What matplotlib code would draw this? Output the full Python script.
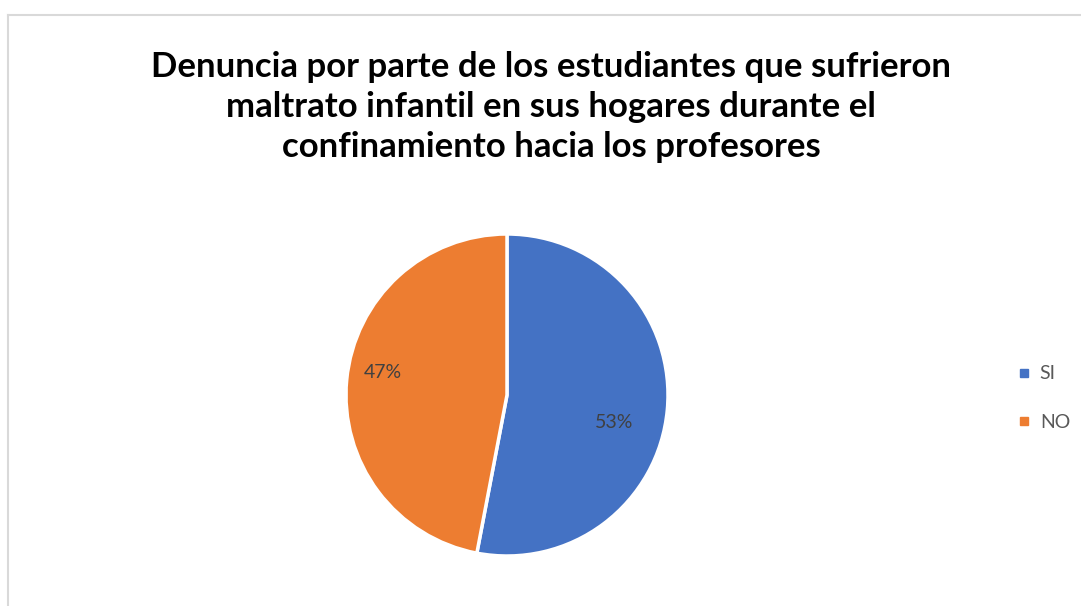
import matplotlib
matplotlib.use('Agg')
import matplotlib.pyplot as plt
from matplotlib.lines import Line2D

plt.rcParams['font.family'] = ['Lato', 'DejaVu Sans']

labels = ['SI', 'NO']
values = [53, 47]
colors = ['#4472C4', '#ED7D31']
title = ('Denuncia por parte de los estudiantes que sufrieron\n'
         'maltrato infantil en sus hogares durante el\n'
         'confinamiento hacia los profesores')
# Excel "best fit" label spots (fraction of radius, relative to centre)
label_pos = [(0.665, -0.17), (-0.77, 0.14)]

fig = plt.figure(figsize=(10.81, 6.06), dpi=100)

# chart area border (only top and left visible in the crop)
fig.add_artist(Line2D([8 / 1081, 1.0], [1 - 15 / 606] * 2, color='#d9d9d9', lw=1.5,
                      transform=fig.transFigure))
fig.add_artist(Line2D([8 / 1081] * 2, [0.0, 1 - 15 / 606], color='#d9d9d9', lw=1.5,
                      transform=fig.transFigure))

fig.text(551 / 1081, 1 - 107 / 606, title, ha='center', va='center',
         fontsize=25, fontweight='bold', color='black', linespacing=1.3)

ax = fig.add_axes([346 / 1081, 50 / 606, 322 / 1081, 322 / 606])
wedges, texts, autotexts = ax.pie(
    values, colors=colors, startangle=90, counterclock=False,
    autopct=lambda p: f'{round(p)}%', pctdistance=0.73,
    wedgeprops=dict(edgecolor='white', linewidth=2.5),
    textprops=dict(fontsize=14, color='#404040'))
for t, pos in zip(autotexts, label_pos):
    t.set_position(pos)
ax.set_xlim(-1, 1)
ax.set_ylim(-1, 1)
ax.set_aspect('equal')

handles = [plt.Line2D([], [], marker='s', color=c, linestyle='', markersize=6)
           for c in colors]
leg = fig.legend(handles, labels, loc='center left',
                 bbox_to_anchor=(997 / 1081, 1 - 398 / 606), frameon=False,
                 fontsize=14, labelspacing=1.6, handletextpad=0.3,
                 handlelength=1.0)
for t in leg.get_texts():
    t.set_color('#595959')

fig.savefig('out.png', dpi=100)
